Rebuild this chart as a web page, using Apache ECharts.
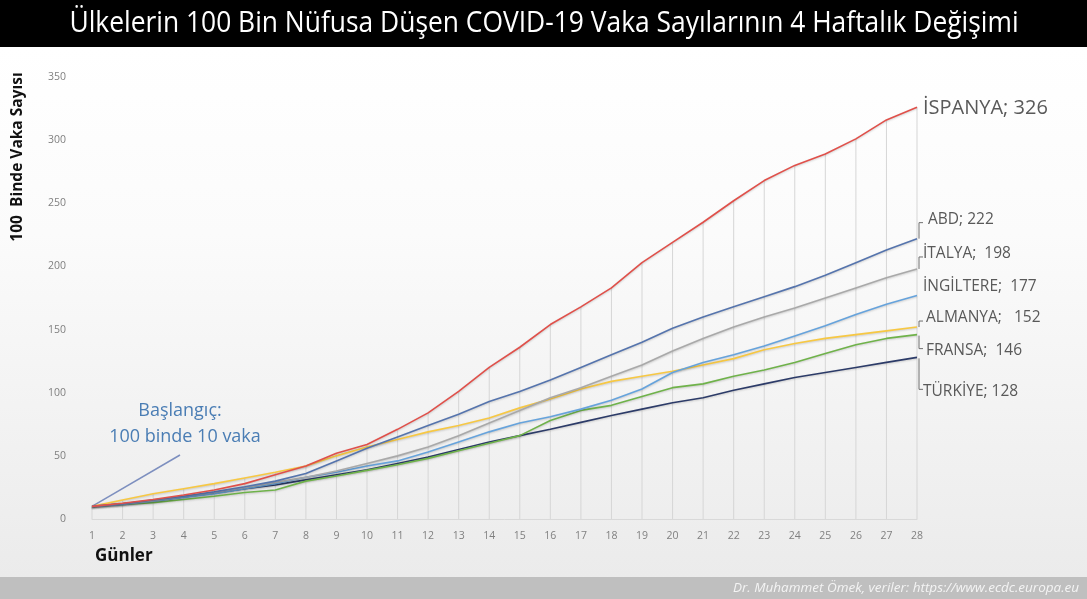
<!DOCTYPE html>
<html>
<head>
<meta charset="utf-8">
<script src="https://cdn.jsdelivr.net/npm/echarts@6/dist/echarts.min.js"></script>
<style>
html,body{margin:0;padding:0;background:#fff;}
#chart{width:1087px;height:599px;}
</style>
</head>
<body>
<div id="chart"></div>
<script>
// ---- data ----
const days = ['1','2','3','4','5','6','7','8','9','10','11','12','13','14','15','16','17','18','19','20','21','22','23','24','25','26','27','28'];
const countries = ['İSPANYA','ABD','İTALYA','İNGİLTERE','ALMANYA','FRANSA','TÜRKİYE'];
const spain   = [10,12.5,15.5,19,23,28,35,42,52,59,71,84,101,120,136,154,168,183,203,219,235,252,268,280,289,301,316,326];
const abd     = [10,12,15,18,21.5,25.5,30,36,46,56,65,74,83,93,101,110,120,130,140,151,160,168,176,184,193,203,213,222];
const italya  = [10,12,14.5,18,21,25,29,33,38,44,50,57,66,76,86,96,104,113,122,133,143,152,160,167,175,183,191,198];
const ingiltere=[10,11.5,14,17,20,24,28,33,37,42,46,53,61,69,76,81,87,94,103,116,124,130,137,145,153,162,170,177];
const almanya = [10,15,20,24,28,32.5,37,42,50,57,63,69,74,80,88,95,103,109,113,117,122,127,134,139,143,146,149,152];
const fransa  = [10,11.5,13,15.5,18,21,23,30,34,38.5,43,48,54,60,66,78,86,90,97,104,107,113,118,124,131,138,143,146];
const turkiye = [10,12,14.5,17.5,20.5,24,27,31,35,39,44,49,55,61,66,71,76.5,82,87,92,96,102,107,112,116,120,124,128];
const yTicks = [0,50,100,150,200,250,300,350];
const titleText = 'Ülkelerin 100 Bin Nüfusa Düşen COVID-19 Vaka Sayılarının 4 Haftalık Değişimi';
const yName = '100  Binde Vaka Sayısı';
const xName = 'Günler';
const noteLines = ['Başlangıç:', '100 binde 10 vaka'];
const startValue = 10;
const footerText = 'Dr. Muhammet Ömek, veriler: https://www.ecdc.europa.eu';

// ---- styles ----
const seriesData = [spain, abd, italya, ingiltere, almanya, fransa, turkiye];
const colors = ['#e0504a','#5574ad','#a9a9a9','#66a3dc','#f7c843','#6fb24a','#2c3b68'];
const labelGap = ['; ','; ',';  ',';  ',';   ',';  ','; '];
// label layout: dy = label centre offset from end point (px), br = bracket type
const labelLayout = [
  {dy:1, br:null, fs:20, tx:6},
  {dy:-19, br:'top', fs:15.5, tx:11},
  {dy:-15, br:'top', fs:15.5, tx:6},
  {dy:-9, br:null, fs:15.5, tx:6},
  {dy:-9, br:'top', fs:15.5, tx:9},
  {dy:16, br:'bottom', fs:15.5, tx:9},
  {dy:34, br:'bottom', fs:15.5, tx:6}
];

const dropMax = days.map((d,i)=>Math.max(...seriesData.map(s=>s[i])));
const lastVals = seriesData.map(s=>s[s.length-1]);

const chart = echarts.init(document.getElementById('chart'), null, {renderer:'canvas'});
const FONT = "'Open Sans', 'Noto Sans', sans-serif";

const lineSeries = countries.map((c,i)=>({
  name: c,
  type: 'line',
  data: seriesData[i],
  symbol: 'none',
  smooth: false,
  z: 10 - i + 3,
  lineStyle: {color: colors[i], width: 1.6, shadowColor:'rgba(0,0,0,0.18)', shadowBlur:2, shadowOffsetY:1},
  itemStyle: {color: colors[i]},
  silent: true,
  markLine: i === 0 ? {
    silent: true,
    symbol: ['none','none'],
    label: {show:false},
    lineStyle: {color:'#7d8fbf', width:1.5, type:'solid'},
    data: [[{coord:[0, startValue]}, {x:180, y:455}]]
  } : undefined
}));

const option = {
  animation: false,
  backgroundColor: '#ffffff',
  graphic: [
    {type:'rect', z:-10, shape:{x:0,y:47,width:1087,height:530},
     style:{fill:new echarts.graphic.LinearGradient(0,0,0,1,[{offset:0,color:'#ffffff'},{offset:0.35,color:'#fbfbfb'},{offset:1,color:'#ebebeb'}])}},
    {type:'rect', z:5, shape:{x:0,y:0,width:1087,height:47}, style:{fill:'#000000'}},
    {type:'text', z:6, x:544, y:24, scaleX:0.91,
     style:{text:titleText, fill:'#ffffff', font:"29px 'Open Sans', sans-serif", align:'center', verticalAlign:'middle'}},
    {type:'rect', z:5, shape:{x:0,y:577,width:1087,height:22}, style:{fill:'#bfbfbf'}},
    {type:'text', z:6, x:733, y:588,
     style:{text:footerText, fill:'#f4f4f4', font:"italic 13.5px 'Open Sans', sans-serif", align:'left', verticalAlign:'middle'}},
    {type:'text', z:6, x:18, y:157, rotation:Math.PI/2,
     style:{text:yName, fill:'#111', font:"bold 15.5px 'Open Sans', sans-serif", align:'center', verticalAlign:'middle'}},
    {type:'text', z:6, x:95, y:556,
     style:{text:xName, fill:'#111', font:"bold 17px 'Open Sans', sans-serif", align:'left', verticalAlign:'middle'}},
    {type:'text', z:6, x:180, y:411,
     style:{text:noteLines[0], fill:'#4a7db4', font:"18px 'Open Sans', sans-serif", align:'center', verticalAlign:'middle'}},
    {type:'text', z:6, x:185, y:437,
     style:{text:noteLines[1], fill:'#4a7db4', font:"18px 'Open Sans', sans-serif", align:'center', verticalAlign:'middle'}}
  ],
  grid: {left:92, right:170, top:77, bottom:80, containLabel:false},
  xAxis: {
    type:'category', data: days, boundaryGap:false,
    axisLine:{show:true, lineStyle:{color:'#d9d9d9', width:1}},
    axisTick:{show:false},
    axisLabel:{color:'#808080', fontSize:10.5, fontFamily:FONT, margin:12, interval:0},
    splitLine:{show:false}
  },
  yAxis: {
    type:'value', min:yTicks[0], max:yTicks[yTicks.length-1], interval:yTicks[1]-yTicks[0],
    axisLine:{show:false}, axisTick:{show:false},
    axisLabel:{color:'#808080', fontSize:10.5, fontFamily:FONT, margin:26},
    splitLine:{show:false}
  },
  series: [
    {type:'bar', data: dropMax, barWidth:1, silent:true, z:1,
     itemStyle:{color:'#d6d6d6'}},
    ...lineSeries,
    {
      type:'custom', silent:true, z:20,
      data: countries.map((c,i)=>[days.length-1, lastVals[i], i]),
      renderItem: function(params, api){
        const i = api.value(2);
        const p = api.coord([api.value(0), api.value(1)]);
        const L = labelLayout[i];
        const ly = p[1] + L.dy;
        const bx = p[0] + 2;
        const children = [];
        if (L.br === 'top') {
          children.push({type:'polyline', shape:{points:[[bx,p[1]],[bx,ly+3],[bx+4,ly+3]]}, style:{stroke:'#6f6f6f', lineWidth:1, fill:null}});
        } else if (L.br === 'bottom') {
          children.push({type:'polyline', shape:{points:[[bx,p[1]+1],[bx,ly-2],[bx+4,ly-2]]}, style:{stroke:'#6f6f6f', lineWidth:1, fill:null}});
        }
        children.push({type:'text', x:p[0]+L.tx, y:ly, style:{
          text: countries[i] + labelGap[i] + lastVals[i], fill:'#595959',
          font: L.fs + "px 'Open Sans', sans-serif", align:'left', verticalAlign:'middle'}});
        return {type:'group', children};
      }
    }
  ]
};
chart.setOption(option);
</script>
</body>
</html>
